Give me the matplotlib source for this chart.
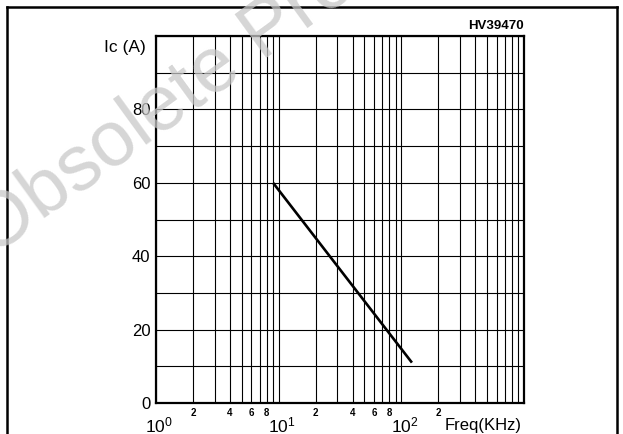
import matplotlib
matplotlib.use("Agg")
import matplotlib.pyplot as plt
from matplotlib.lines import Line2D
from matplotlib.transforms import offset_copy

plt.rcParams['font.family'] = ['Liberation Sans', 'DejaVu Sans']
plt.rcParams['mathtext.fontset'] = 'custom'
plt.rcParams['mathtext.rm'] = 'Liberation Sans'

# Data
freq_khz = [9, 122]
ic_amps = [60, 11]

y_ticks = [0, 20, 40, 60, 80]
y_grid = [10, 30, 50, 70, 90]
major_exps = [0, 1, 2]
minor_label_vals = [2, 4, 6, 8, 20, 40, 60, 80, 200]
minor_label_text = ['2', '4', '6', '8', '2', '4', '6', '8', '2']

fig = plt.figure(figsize=(6.23, 4.34), dpi=100)
ax = fig.add_axes([156/623, 1-403/434, (524-156)/623, (403-36)/434])
ax.set_xscale('log')
ax.set_xlim(1, 1000)
ax.set_ylim(0, 100)

# grid
ax.set_xticks([10**e for e in major_exps] + [1000])
ax.set_xticks([m * 10**e for e in range(3) for m in range(2, 10)], minor=True)
ax.set_yticks(y_ticks + [100])
ax.set_yticks(y_grid, minor=True)
ax.grid(True, which='both', color='black', linewidth=0.8)
ax.tick_params(which='both', length=0, labelbottom=False)
ax.set_yticklabels([str(v) for v in y_ticks] + [''], fontsize=12)
ax.tick_params(axis='y', pad=4)
for s in ax.spines.values():
    s.set_linewidth(1.6)

ax.plot(freq_khz, ic_amps, color='black', linewidth=1.9, solid_capstyle='butt')

trans = ax.get_xaxis_transform()
for v, t in zip(minor_label_vals, minor_label_text):
    ax.text(v, -0.013, t, transform=trans, ha='center', va='top',
            fontsize=7, fontweight='bold')
for e in major_exps:
    ax.text(10**e, -0.034, r'$\mathregular{10^{%d}}$' % e,
            transform=offset_copy(trans, fig=fig, x=3, y=0, units='dots'),
            ha='center', va='top', fontsize=12.5)
ax.text((445-156)/368, -0.04, 'Freq(KHz)', transform=ax.transAxes, ha='left', va='top',
        fontsize=12)
ax.text(1.0, 1.012, 'HV39470', transform=ax.transAxes, ha='right', va='bottom',
        fontsize=9.5, fontweight='bold')
ax.text(-0.027, 0.97, 'Ic (A)', transform=ax.transAxes, ha='right', va='center',
        fontsize=12.5)

# page frame
lw = 1.8
fig.add_artist(Line2D([7/623, 7/623], [0, 1-7/434], transform=fig.transFigure,
                      color='black', linewidth=lw))
fig.add_artist(Line2D([7/623, 617/623], [1-7/434, 1-7/434], transform=fig.transFigure,
                      color='black', linewidth=lw))
fig.add_artist(Line2D([617/623, 617/623], [0, 1-7/434], transform=fig.transFigure,
                      color='black', linewidth=lw))

# watermark
fig.text(-7/623, 1-257/434, 'Obsolete Product(s)', fontsize=56, color='#c8c8c8', alpha=0.75,
         rotation=36, rotation_mode='anchor', ha='left', va='baseline', zorder=10)

fig.savefig('out.png', dpi=100)
